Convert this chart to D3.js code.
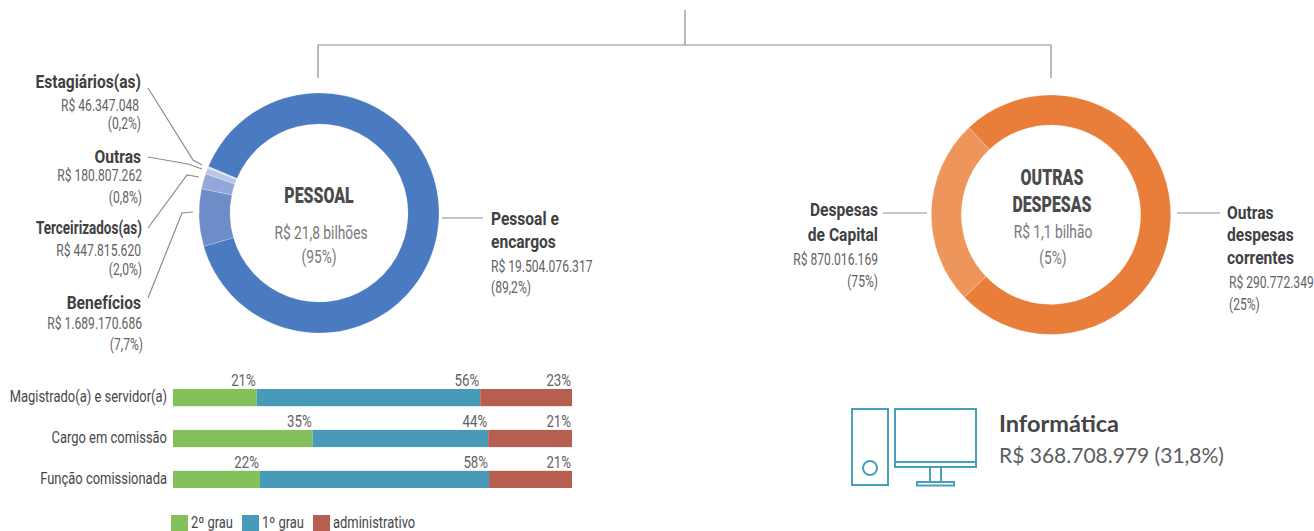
<!DOCTYPE html>
<html>
<head>
<meta charset="utf-8">
<script src="https://cdn.jsdelivr.net/npm/d3@7"></script>
<style>
body { margin:0; background:#fff; overflow:hidden; }
svg { display:block; }
text { font-family:"Roboto",sans-serif; }
.name { font-weight:700; font-size:19px; fill:#3f4042; }
.val { font-size:16.5px; fill:#616264; }
.row { font-size:16px; fill:#46474a; }
.pct { font-size:17px; fill:#616264; }
.center { font-size:18px; fill:#77787b; }
.head { font-weight:900; font-size:21.5px; fill:#4a4b4d; }
.big { font-family:"Lato",sans-serif; }
</style>
</head>
<body>
<svg id="chart" width="1314" height="531"></svg>
<script>
// pessoal donut, clockwise starting at the big slice
var pessoalNames = ["Pessoal e encargos","Benefícios","Terceirizados(as)","Outras","Estagiários(as)"]
var pessoalValues = [19504076317,1689170686,447815620,180807262,46347048]
var pessoalColors = ["#4a7abf","#6d8cc8","#93a8d8","#b9c6e6","#d9e0f2"]

var outrasNames = ["Outras despesas correntes","Despesas de Capital"]
var outrasValues = [870016169,290772349]
var outrasColors = ["#e97d3a","#ee955c"]

var rowNames = ["Magistrado(a) e servidor(a)","Cargo em comissão","Função comissionada"]
var segundoGrau = [21,35,22]
var primeiroGrau = [56,44,58]
var administrativo = [23,21,21]
var stackKeys = ["2º grau","1º grau","administrativo"]
var stackColors = ["#84c15b","#479bb8","#b65f50"]

var svg = d3.select("#chart")

// no condensed font installed, so squeeze the text horizontally
var squeeze = {name:0.82,val:0.733,row:0.81,pct:0.78,center:0.765,head:0.74}

var drawDonut = function(names,values,colors,cx,cy,outer,inner,start)
{
    var pie = d3.pie()
        .sort(null)
        .startAngle(start)
        .endAngle(start+2*Math.PI)
    var arc = d3.arc()
        .innerRadius(inner)
        .outerRadius(outer)
    svg.append("g")
        .attr("transform","translate("+cx+","+cy+")")
        .selectAll("path")
        .data(pie(values))
        .enter()
        .append("path")
        .attr("d",arc)
        .attr("fill",function(d,i){return colors[i]})
        .attr("stroke","#fff")
        .attr("stroke-opacity",0.35)
        .attr("stroke-width",0.6)
}

var label = function(str,cls,x,y,anchor,sx)
{
    svg.append("text")
        .text(str)
        .classed(cls,true)
        .attr("transform","translate("+x+","+y+") scale("+(sx||squeeze[cls])+",1)")
        .attr("text-anchor",anchor||"start")
}

var lineGen = d3.line()
var connector = function(pts)
{
    svg.append("path")
        .attr("d",lineGen(pts))
        .attr("fill","none")
        .attr("stroke","#8a8b8d")
        .attr("stroke-width",1.2)
}

// tree on top
connector([[685,10],[685,45]])
connector([[318,78],[318,45],[1051,45],[1051,78]])

drawDonut(pessoalNames,pessoalValues,pessoalColors,319,213,120,89,-67.2*Math.PI/180)
drawDonut(outrasNames,outrasValues,outrasColors,1051,214.7,119.7,89.7,-43.4*Math.PI/180)

connector([[148,88],[193,160],[202,165]])
connector([[148,157],[188,164],[202,169]])
connector([[148,228],[187,175],[199,177]])
connector([[148,298],[182,213],[193,212]])
connector([[442,218],[483,218]])
connector([[883,213],[927,213]])
connector([[1177,213],[1220,213]])

label("Estagiários(as)","name",141,88,"end")
label("R$ 46.347.048","val",139,111,"end")
label("(0,2%)","val",141,129,"end")
label("Outras","name",141,163,"end")
label("R$ 180.807.262","val",142,181,"end")
label("(0,8%)","val",142,203,"end")
label("Terceirizados(as)","name",142,234,"end",0.71)
label("R$ 447.815.620","val",141,256,"end")
label("(2,0%)","val",142,275,"end")
label("Benefícios","name",141,309,"end")
label("R$ 1.689.170.686","val",142,329,"end")
label("(7,7%)","val",143,350,"end")

label("PESSOAL","head",319,203,"middle")
label("R$ 21,8 bilhões","center",321,239,"middle")
label("(95%)","center",319,263,"middle")

label("Pessoal e","name",491,225)
label("encargos","name",491,248)
label("R$ 19.504.076.317","val",491,272)
label("(89,2%)","val",491,293)

label("OUTRAS","head",1052,185,"middle")
label("DESPESAS","head",1052,212,"middle")
label("R$ 1,1 bilhão","center",1053,238,"middle")
label("(5%)","center",1053,264,"middle")

label("Despesas","name",878,216,"end")
label("de Capital","name",878,241,"end")
label("R$ 870.016.169","val",878,265,"end")
label("(75%)","val",878,287,"end")

label("Outras","name",1227,219)
label("despesas","name",1227,241)
label("correntes","name",1227,264)
label("R$ 290.772.349","val",1229,288)
label("(25%)","val",1229,310)

// stacked bars
var rows = rowNames.map(function(name,i)
{
    return {name:name,"2º grau":segundoGrau[i],"1º grau":primeiroGrau[i],"administrativo":administrativo[i]}
})
var series = d3.stack()
    .keys(stackKeys)
    .offset(d3.stackOffsetExpand)(rows)

var xScale = d3.scaleLinear()
    .domain([0,1])
    .range([173,572])
var yScale = d3.scaleBand()
    .domain(rowNames)
    .range([389,488])
    .paddingInner(0.58)
var colorScale = d3.scaleOrdinal()
    .domain(stackKeys)
    .range(stackColors)

var groups = svg.append("g")
    .selectAll("g")
    .data(series)
    .enter()
    .append("g")
    .attr("fill",function(s){return colorScale(s.key)})
groups.selectAll("rect")
    .data(function(s){return s})
    .enter()
    .append("rect")
    .attr("x",function(d){return xScale(d[0])})
    .attr("width",function(d){return xScale(d[1])-xScale(d[0])})
    .attr("y",function(d){return yScale(d.data.name)})
    .attr("height",yScale.bandwidth())

series.forEach(function(s)
{
    s.forEach(function(d)
    {
        label(d.data[s.key]+"%","pct",xScale(d[1])-1,yScale(d.data.name)-3,"end")
    })
})

rowNames.forEach(function(name)
{
    label(name,"row",167,yScale(name)+yScale.bandwidth()-4.5,"end")
})

// legend
var legendX = d3.scalePoint()
    .domain(stackKeys)
    .range([171,313])
stackKeys.forEach(function(key,i)
{
    svg.append("rect")
        .attr("x",legendX(key))
        .attr("y",515)
        .attr("width",17)
        .attr("height",16)
        .attr("fill",colorScale(key))
    label(key,"row",legendX(key)+20,528)
})

// computer icon
var icon = svg.append("g")
    .attr("fill","none")
    .attr("stroke","#4a9fbd")
    .attr("stroke-width",2)
icon.append("rect").attr("x",852).attr("y",409).attr("width",36).attr("height",76)
icon.append("circle").attr("cx",870).attr("cy",468).attr("r",7)
icon.append("rect").attr("x",895).attr("y",409).attr("width",81).attr("height",58)
icon.append("path").attr("d",lineGen([[895,462],[976,462]]))
icon.append("path").attr("d",lineGen([[930,467],[930,482]]))
icon.append("path").attr("d",lineGen([[941,467],[941,482]]))
icon.append("rect").attr("x",917).attr("y",482).attr("width",37).attr("height",3.5)

svg.append("text")
    .text("Informática")
    .classed("big",true)
    .attr("x",999)
    .attr("y",432)
    .attr("font-size",23.5)
    .attr("font-weight",700)
    .attr("fill","#444547")
svg.append("text")
    .text("R$ 368.708.979 (31,8%)")
    .classed("big",true)
    .attr("x",999)
    .attr("y",463)
    .attr("font-size",21)
    .attr("fill","#5c5d5f")
</script>
</body>
</html>
